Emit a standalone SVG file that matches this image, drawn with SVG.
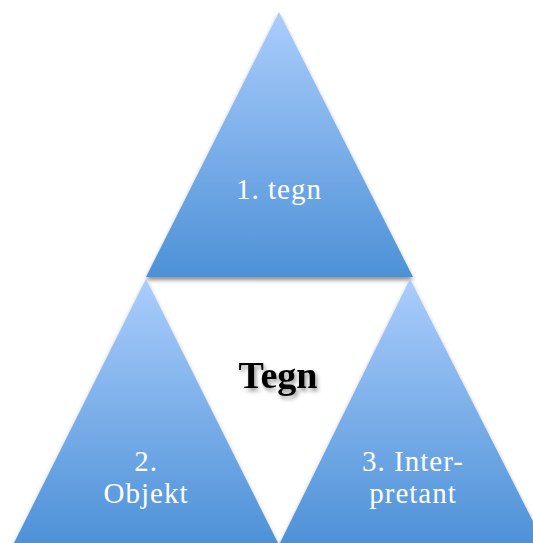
<svg xmlns="http://www.w3.org/2000/svg" width="533" height="543" viewBox="0 0 533 543">
<style>
.tri{fill:url(#g);filter:url(#sh)}
.lbl{font-family:"Liberation Serif",serif;font-size:29px;letter-spacing:1px;fill:#fff;text-anchor:middle}
.ctr{font-family:"Liberation Serif",serif;font-size:38px;font-weight:bold;fill:#000;text-anchor:middle;filter:url(#tsh)}
</style>
<defs>
<linearGradient id="g" x1="0" y1="0" x2="0" y2="1">
<stop offset="0" stop-color="#abcdfc"/>
<stop offset="1" stop-color="#4d91d7"/>
</linearGradient>
<filter id="sh" x="-10%" y="-10%" width="120%" height="125%">
<feDropShadow dx="0" dy="3" stdDeviation="2" flood-color="#000" flood-opacity="0.45"/>
</filter>
<filter id="tsh" x="-20%" y="-30%" width="150%" height="170%">
<feDropShadow dx="2" dy="3" stdDeviation="2" flood-color="#000" flood-opacity="0.4"/>
</filter>
</defs>
<g id="node-tegn1">
<polygon class="tri" points="279,12 413,277 146,277"/>
<text class="lbl" x="279" y="199">1. tegn</text>
</g>
<g id="node-objekt">
<polygon class="tri" points="146,279 279,545 13,545"/>
<text class="lbl" x="146" y="471">2.</text>
<text class="lbl" x="146" y="503">Objekt</text>
</g>
<g id="node-interpretant">
<polygon class="tri" points="410,279 545,545 279,545"/>
<text class="lbl" x="413" y="471">3. Inter-</text>
<text class="lbl" x="413" y="503">pretant</text>
</g>
<g id="node-center">
<text class="ctr" x="278" y="388">Tegn</text>
</g>
<g id="connectors"/>
</svg>
